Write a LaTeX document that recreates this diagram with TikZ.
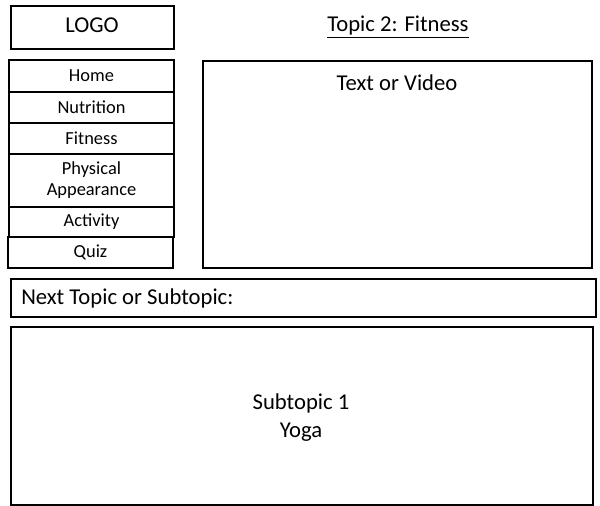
\documentclass[tikz,border=0pt]{standalone}
\usepackage{fontspec}
\setmainfont{Carlito}
\begin{document}
\begin{tikzpicture}[x=0.75pt, y=-0.75pt,
  wbox/.style 2 args={draw=black, line width=1.9pt, minimum width=#1*0.75pt,
                      minimum height=#2*0.75pt, inner sep=0pt},
  big/.style={font=\fontsize{17}{21.5}\selectfont, inner sep=0pt, align=center},
  menu/.style={font=\fontsize{13.8}{15.8}\selectfont, align=center}]
  \useasboundingbox (0,0) rectangle (600,506);

  % header
  \node[wbox={163}{43}] (logo) at (92.5,27.5) {};
  \node[big] (logolbl) at (92,25) {LOGO};
  \node[big] (title) at (398,27) {\underline{Topic 2: Fitness}};

  % navigation menu
  \node[wbox={165}{32}, menu] (home)     at (91.5,76)    {Home};
  \node[wbox={165}{31}, menu] (nutr)     at (91.5,107.5) {Nutrition};
  \node[wbox={165}{31}, menu] (fit)      at (91.5,138.5) {Fitness};
  \node[wbox={165}{53}, menu] (phys)     at (91.5,180.5) {Physical\\Appearance};
  \node[wbox={165}{30}, menu] (act)      at (91.5,222)   {Activity};
  \node[wbox={165}{31}, menu] (quiz)     at (90.5,252.5) {Quiz};

  % main content area
  \node[wbox={389}{207}] (content) at (397.5,164.5) {};
  \node[big] (contentlbl) at (397,83) {Text or Video};

  % next topic bar
  \node[wbox={585}{38}] (next) at (303.5,298) {};
  \node[big, anchor=west] (nextlbl) at (21,298) {Next Topic or Subtopic:};

  % subtopic panel
  \node[wbox={582}{178}] (sub) at (302,416) {};
  \node[big] (sublbl) at (301,417.5) {Subtopic 1\\Yoga};
\end{tikzpicture}
\end{document}
